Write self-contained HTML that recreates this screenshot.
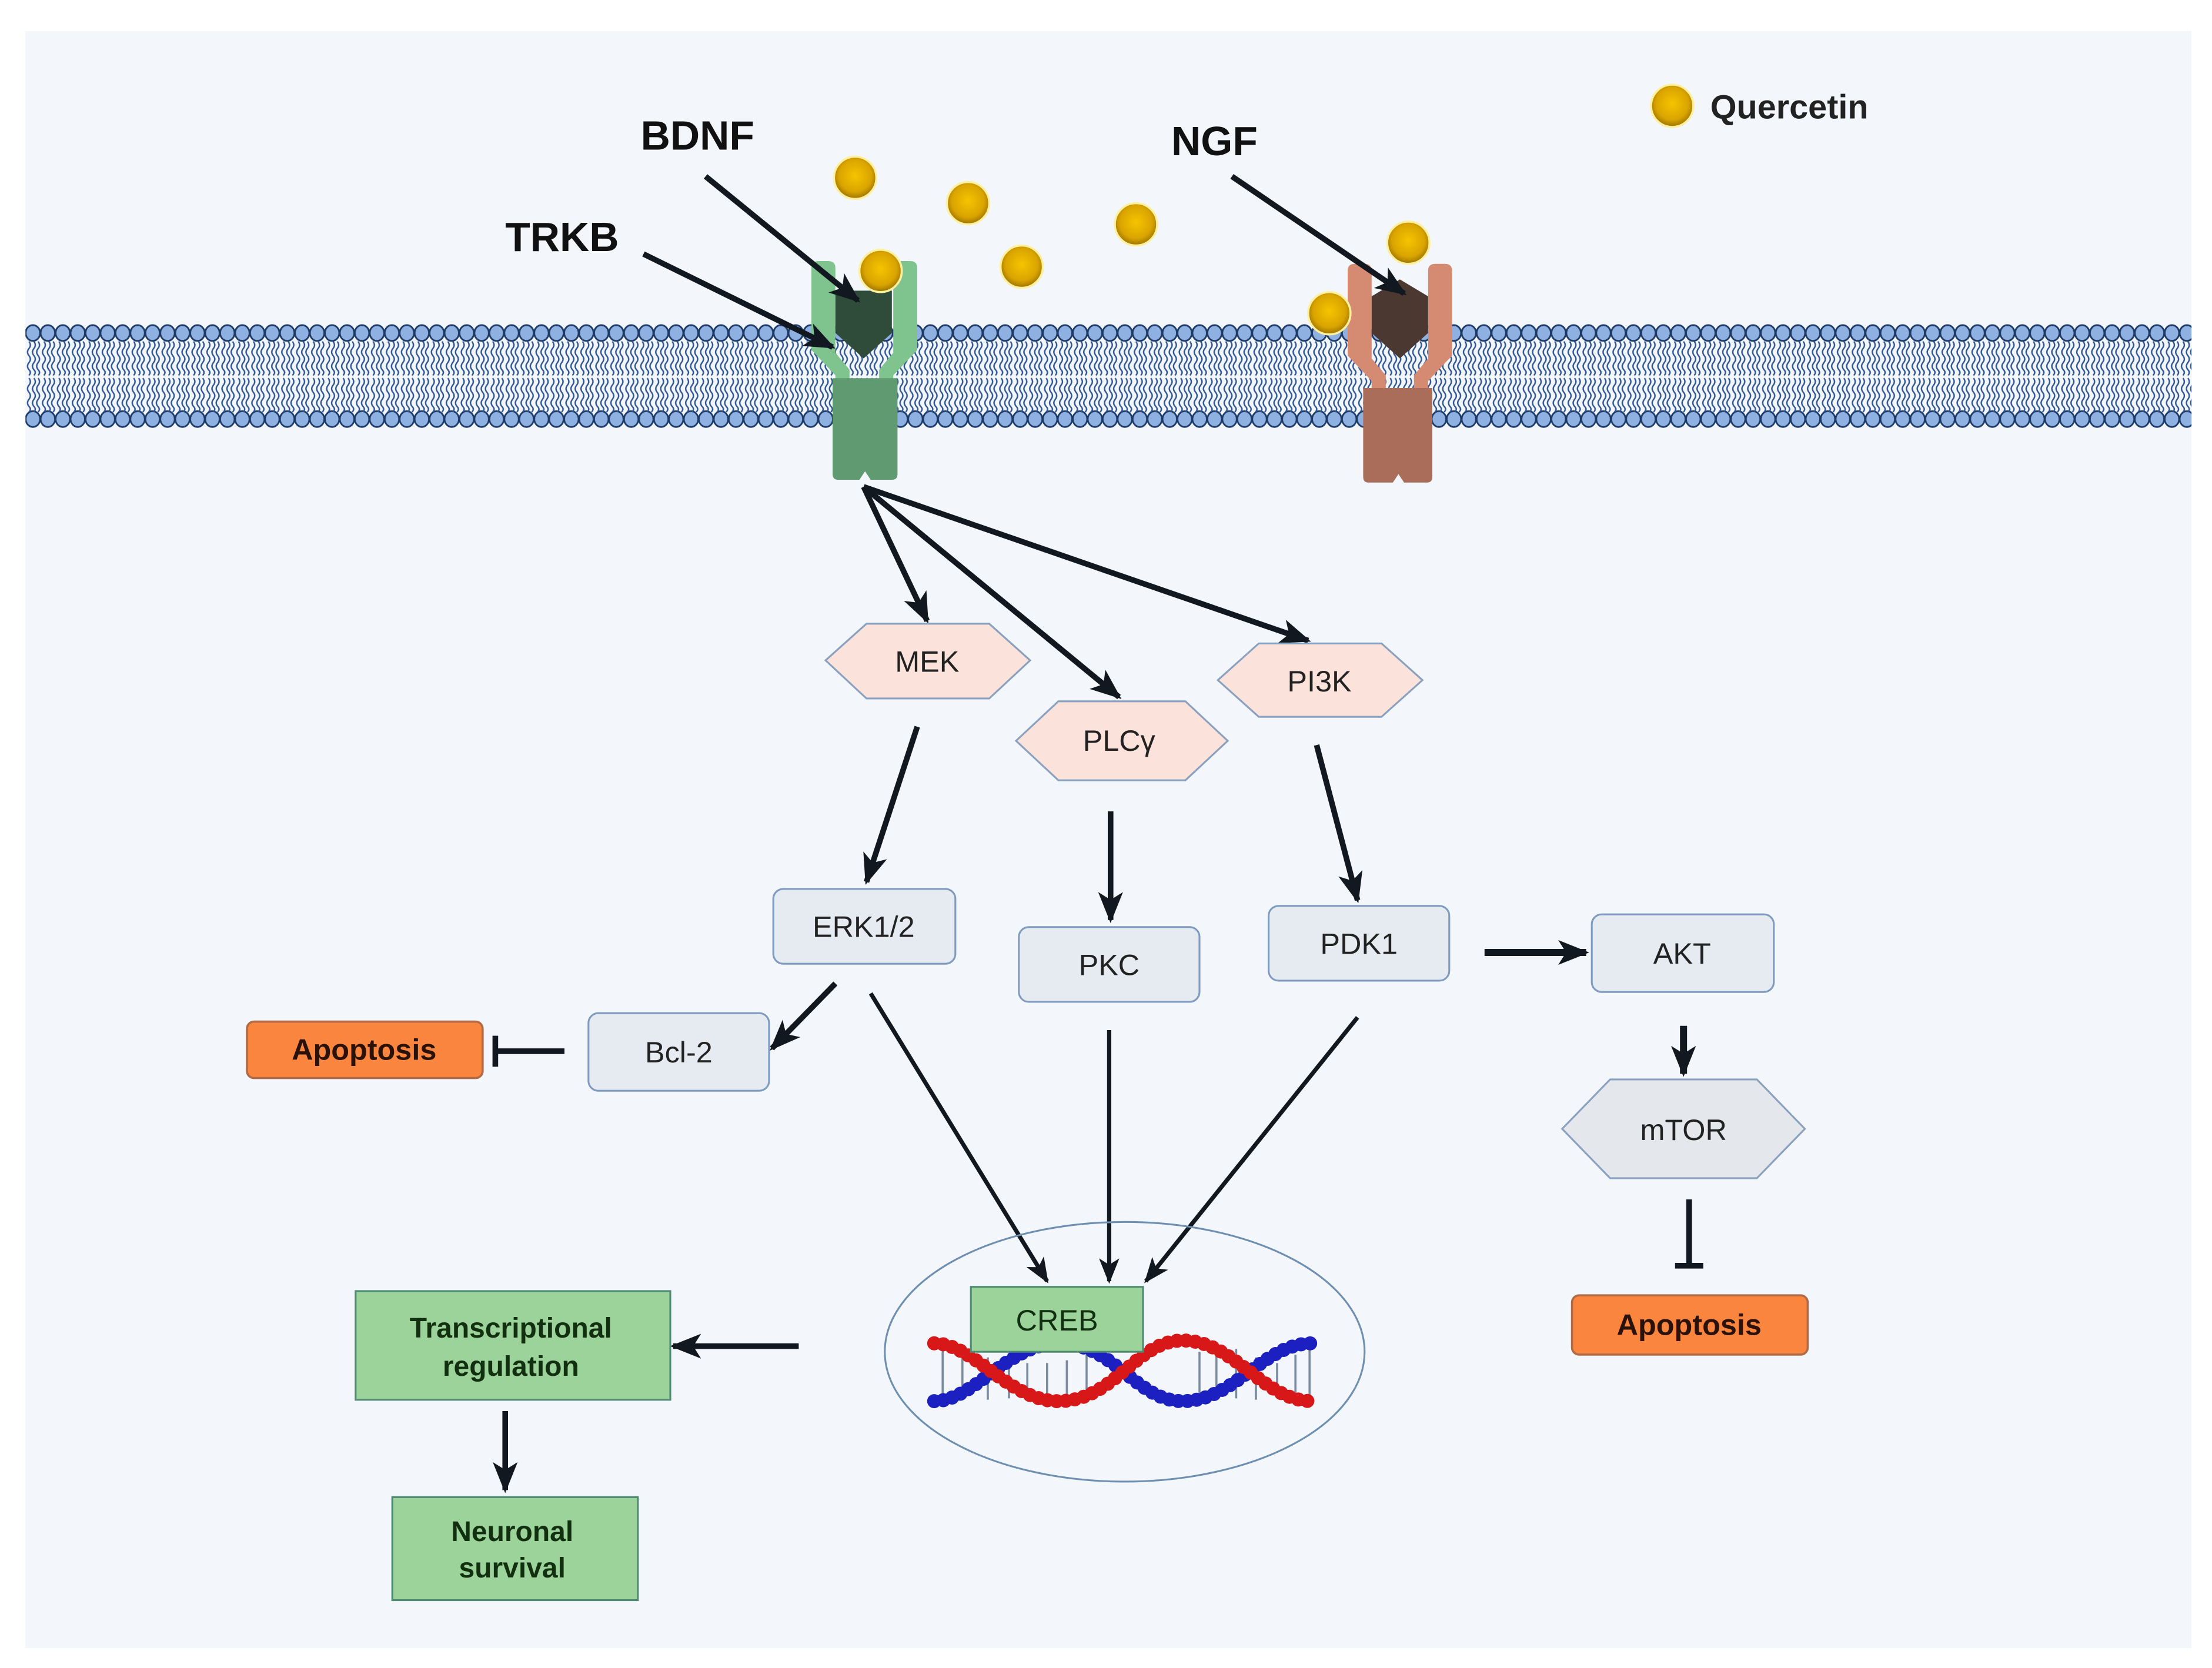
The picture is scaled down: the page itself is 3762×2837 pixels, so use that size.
<!DOCTYPE html>
<html><head><meta charset="utf-8"><style>
html,body{margin:0;padding:0;background:#fff;}
svg{display:block;}
text{font-family:"Liberation Sans Narrow","Liberation Sans",sans-serif;}
.b{font-family:"Liberation Sans",sans-serif;font-weight:bold;}
</style></head><body>
<svg width="3762" height="2837" viewBox="0 0 1567.5 1182.1" xmlns="http://www.w3.org/2000/svg">
<defs>
<marker id="ah" markerUnits="userSpaceOnUse" markerWidth="22" markerHeight="22" viewBox="0 0 20 20" refX="18" refY="10" orient="auto">
<path d="M0,2 L20,10 L0,18 L5,10 Z" fill="#111820"/></marker>
<marker id="ah2" markerUnits="userSpaceOnUse" markerWidth="18" markerHeight="18" viewBox="0 0 20 20" refX="18" refY="10" orient="auto">
<path d="M0,2 L20,10 L0,18 L5,10 Z" fill="#111820"/></marker>
<radialGradient id="q" cx="50%" cy="45%" r="55%"><stop offset="0" stop-color="#f7c400"/><stop offset="0.7" stop-color="#d9a400"/><stop offset="1" stop-color="#9a7200"/></radialGradient>
<pattern id="mem" x="18" y="226" width="10.6" height="82" patternUnits="userSpaceOnUse">
<ellipse cx="5.3" cy="10" rx="5.1" ry="5.6" fill="#8fb1e2" stroke="#1d3a66" stroke-width="1.2"/>
<ellipse cx="5.3" cy="71" rx="5.1" ry="5.6" fill="#8fb1e2" stroke="#1d3a66" stroke-width="1.2"/>
<path d="M2.5,16 q2,2.5 0,5 q-2,2.5 0,5 q2,2.5 0,5 q-2,2.5 0,5 q2,2 0,4 M6,16 q2,2.5 0,5 q-2,2.5 0,5 q2,2.5 0,5 q-2,2.5 0,5 q2,2 0,4 M9,16 q2,2.5 0,5 q-2,2.5 0,5 q2,2.5 0,5 q-2,2.5 0,5 q2,2 0,4 M2.5,42 q2,2.5 0,5 q-2,2.5 0,5 q2,2.5 0,5 q-2,2.5 0,5 q2,2 0,4 M6,42 q2,2.5 0,5 q-2,2.5 0,5 q2,2.5 0,5 q-2,2.5 0,5 q2,2 0,4 M9,42 q2,2.5 0,5 q-2,2.5 0,5 q2,2.5 0,5 q-2,2.5 0,5 q2,2 0,4" fill="none" stroke="#2f5592" stroke-width="1"/>
</pattern>
</defs>
<rect x="0" y="0" width="1567.5" height="1182.1" fill="#fff"/>
<rect x="18" y="22" width="1535" height="1146" fill="#f3f7fc"/>
<rect x="18" y="226" width="1535" height="82" fill="url(#mem)"/>

<g>
<path d="M575,190 q0,-5 5,-5 h7 q5,0 5,5 v60 l10,12 v10 h-10 v-6 l-17,-18 z" fill="#7fc38e"/>
<path d="M650,190 q0,-5 -5,-5 h-7 q-5,0 -5,5 v60 l-10,12 v10 h10 v-6 l17,-18 z" fill="#7fc38e"/>
<path d="M590,268 h46 v68 q0,4 -4,4 h-15 l-4,-6 l-4,6 h-15 q-4,0 -4,-4 z" fill="#5f9a70"/>
<path d="M592,206 h40 v30 l-20,18 l-20,-18 z" fill="#2f4c3b"/>
</g>
<g>
<path d="M955,192 q0,-5 5,-5 h7 q5,0 5,5 v62 l10,12 v10 h-10 v-6 l-17,-18 z" fill="#d48b72"/>
<path d="M1029,192 q0,-5 -5,-5 h-7 q-5,0 -5,5 v62 l-10,12 v10 h10 v-6 l17,-18 z" fill="#d48b72"/>
<path d="M966,275 h49 v63 q0,4 -4,4 h-16 l-4,-6 l-4,6 h-17 q-4,0 -4,-4 z" fill="#a96d59"/>
<path d="M972,210 l20,-12 l20,12 v26 l-20,18 l-20,-18 z" fill="#4b3830"/>
</g>

<g fill="url(#q)" stroke="#fff0a0" stroke-width="1.5">
<circle cx="606" cy="126" r="15"/><circle cx="686" cy="144" r="15"/><circle cx="805" cy="159" r="15"/>
<circle cx="724" cy="189" r="15"/><circle cx="624" cy="192" r="15"/><circle cx="998" cy="172" r="15"/>
<circle cx="942" cy="222" r="15"/><circle cx="1185" cy="75" r="15"/>
</g>
<text x="1212" y="84" class="b" font-size="24" fill="#222">Quercetin</text>

<text x="454" y="106" class="b" font-size="29" fill="#111">BDNF</text>
<text x="358" y="178" class="b" font-size="29" fill="#111">TRKB</text>
<text x="830" y="110" class="b" font-size="29" fill="#111">NGF</text>

<g stroke="#111820" stroke-width="4" fill="none" marker-end="url(#ah)">
<line x1="500" y1="125" x2="608" y2="213"/>
<line x1="456" y1="180" x2="590" y2="246"/>
<line x1="873" y1="125" x2="995" y2="208"/>
<line x1="612" y1="345" x2="657" y2="440"/>
<line x1="612" y1="345" x2="793" y2="494"/>
<line x1="612" y1="345" x2="927" y2="454"/>
<line x1="650" y1="515" x2="614" y2="625"/>
<line x1="787" y1="575" x2="787" y2="652"/>
<line x1="933" y1="528" x2="962" y2="638"/>
<line x1="1052" y1="675" x2="1124" y2="675" stroke-width="5"/>
<line x1="1193" y1="727" x2="1193" y2="761" stroke-width="5"/>
<line x1="592" y1="697" x2="547" y2="743"/>
<line x1="566" y1="954" x2="477" y2="954"/>
<line x1="358" y1="1000" x2="358" y2="1056"/>
</g>
<g stroke="#111820" stroke-width="3" fill="none" marker-end="url(#ah2)">
<line x1="617" y1="704" x2="742" y2="908"/>
<line x1="786" y1="730" x2="786" y2="908"/>
<line x1="962" y1="721" x2="812" y2="908"/>
</g>
<g stroke="#111820" stroke-width="4">
<line x1="400" y1="745" x2="350" y2="745"/><line x1="351" y1="734" x2="351" y2="756"/>
<line x1="1197" y1="850" x2="1197" y2="897"/><line x1="1187" y1="897" x2="1207" y2="897"/>
</g>

<g stroke="#8aa0bf" stroke-width="1.3" fill="#fbe3dc">
<polygon points="585,468 614,442 701,442 730,468 701,495 614,495"/>
<polygon points="720,525 750,497 840,497 870,525 840,553 750,553"/>
<polygon points="863,482 892,456 979,456 1008,482 979,508 892,508"/>
<polygon points="1107,800 1141,765 1245,765 1279,800 1245,835 1141,835" fill="#e4e8ed"/>
</g>
<g font-size="21" fill="#222" text-anchor="middle">
<text x="657" y="476">MEK</text>
<text x="793" y="532">PLCγ</text>
<text x="935" y="490">PI3K</text>
<text x="1193" y="808">mTOR</text>
</g>

<g stroke="#7f9bbf" stroke-width="1.3" fill="#e6ebf1">
<rect x="548" y="630" width="129" height="53" rx="7"/>
<rect x="722" y="657" width="128" height="53" rx="7"/>
<rect x="899" y="642" width="128" height="53" rx="7"/>
<rect x="1128" y="648" width="129" height="55" rx="7"/>
<rect x="417" y="718" width="128" height="55" rx="7"/>
</g>
<g font-size="21" fill="#222" text-anchor="middle">
<text x="612" y="664">ERK1/2</text>
<text x="786" y="691">PKC</text>
<text x="963" y="676">PDK1</text>
<text x="1192" y="683">AKT</text>
<text x="481" y="753">Bcl-2</text>
</g>
<g stroke="#b06a45" stroke-width="1.5" fill="#fa853f">
<rect x="175" y="724" width="167" height="40" rx="5"/>
<rect x="1114" y="918" width="167" height="42" rx="5"/>
</g>
<g font-size="21" fill="#2a1208" text-anchor="middle" font-weight="bold">
<text x="258" y="751">Apoptosis</text>
<text x="1197" y="946">Apoptosis</text>
</g>

<ellipse cx="797" cy="958" rx="170" ry="92" fill="none" stroke="#6f8fb0" stroke-width="1.3"/>
<g>
<g stroke-width="1.5">
<path d="M668,955 v36 M682,955 v37 M700,962 v30 M715,966 v25 M728,966 v25 M742,966 v25 M756,964 v28 M770,960 v28 M850,958 v30 M862,956 v35 M876,956 v35 M890,962 v30 M905,966 v24 M918,960 v32 M928,955 v36" stroke="#7a8aa0"/>
</g>
<path d="M662,993 C690,993 715,952 750,952 C790,952 805,993 838,993 C875,993 895,952 930,952" fill="none" stroke="#1c20c0" stroke-width="10" stroke-dasharray="0 6.5" stroke-linecap="round"/>
<path d="M662,952 C690,952 715,993 750,993 C790,993 805,950 838,950 C875,950 895,993 930,993" fill="none" stroke="#d81818" stroke-width="10" stroke-dasharray="0 6.5" stroke-linecap="round"/>
</g>
<rect x="688" y="912" width="122" height="46" fill="#9cd39a" stroke="#4f8a72" stroke-width="1.3"/>
<text x="749" y="943" font-size="21" fill="#10300f" text-anchor="middle">CREB</text>

<g stroke="#4f8a72" stroke-width="1.3" fill="#9cd39a">
<rect x="252" y="915" width="223" height="77"/>
<rect x="278" y="1061" width="174" height="73"/>
</g>
<g fill="#123010" text-anchor="middle" class="b">
<text x="362" y="948" font-size="20">Transcriptional</text>
<text x="362" y="975" font-size="20">regulation</text>
<text x="363" y="1092" font-size="20">Neuronal</text>
<text x="363" y="1118" font-size="20">survival</text>
</g>
</svg>
</body></html>
